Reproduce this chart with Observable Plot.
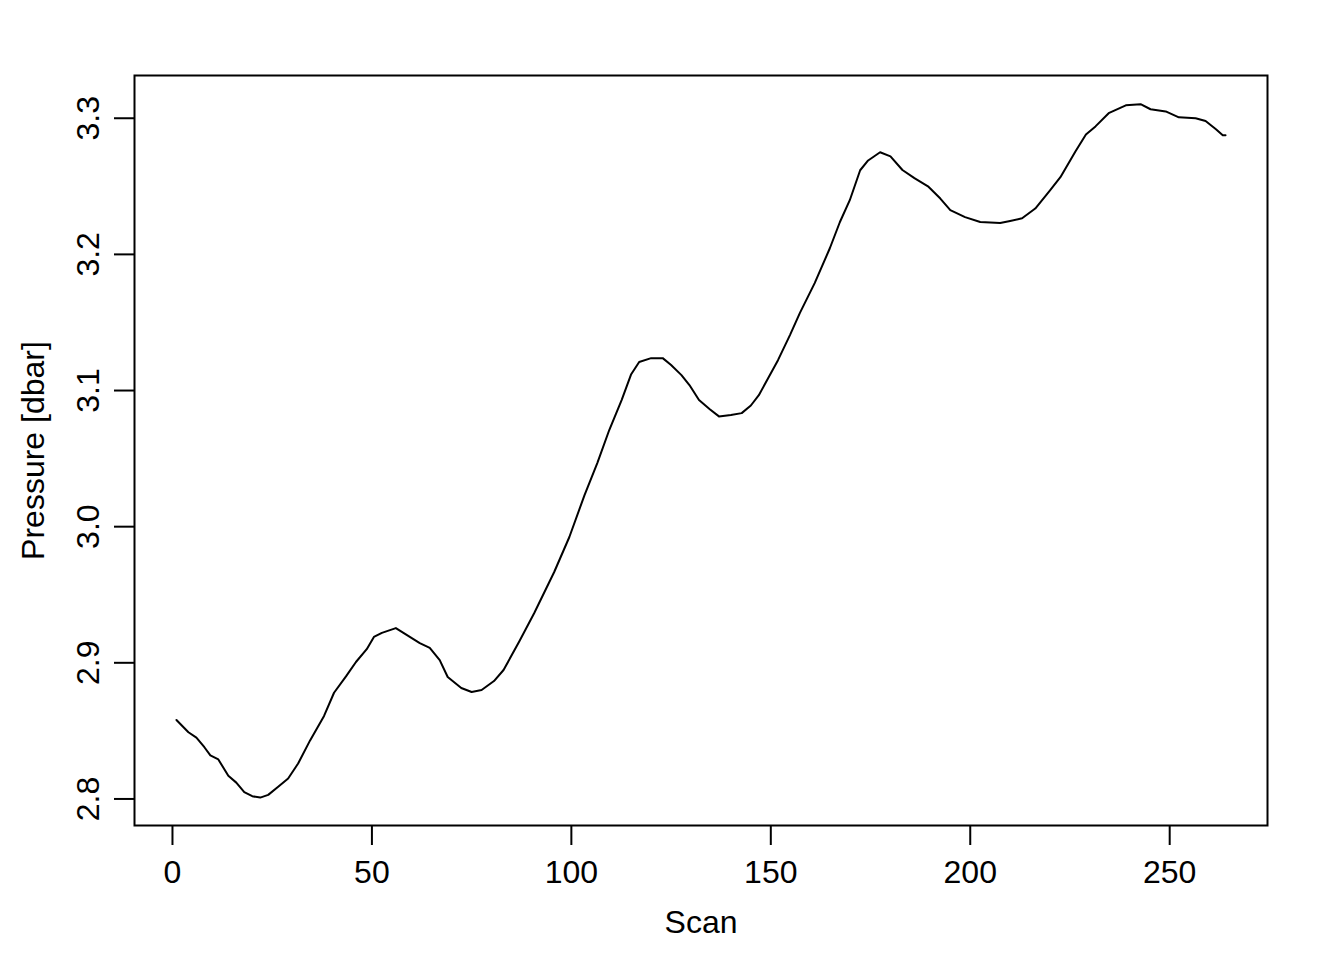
<!DOCTYPE html>
<html>
<head>
<meta charset="utf-8">
<script src="https://cdn.jsdelivr.net/npm/d3@7"></script>
<script src="https://cdn.jsdelivr.net/npm/@observablehq/plot@0.6"></script>
<style>
  html, body { margin: 0; padding: 0; background: #fff; }
</style>
</head>
<body>
<div id="chart"></div>
<script>
const scan = [1, 4, 6, 8, 9.5, 11.5, 14, 16, 18, 20, 22, 24, 26.5, 29, 31.5, 34.5, 38, 40.5, 43.5, 46, 48.7, 50.5, 52.5, 56, 59, 62, 64.5, 67, 69, 72.4, 75, 77.5, 80.6, 83, 87, 90.7, 95.7, 99.5, 103.3, 106.5, 109.5, 112.6, 115, 117, 120, 122.9, 125, 127.6, 129.6, 132, 134.7, 137, 140, 142.7, 145, 147, 149.7, 151.8, 154.8, 157.3, 161, 164.8, 167.3, 169.8, 172.4, 174.4, 177.4, 180, 183, 186, 189.4, 192.5, 195, 198.7, 202.5, 207.5, 210, 213, 216.3, 220, 222.6, 226.4, 229, 231.4, 234.7, 239, 242.7, 245.2, 249, 252.3, 256.5, 259, 261.6, 263.3, 264];
const pressure = [2.858, 2.849, 2.845, 2.838, 2.832, 2.829, 2.817, 2.812, 2.805, 2.802, 2.801, 2.803, 2.809, 2.815, 2.826, 2.843, 2.861, 2.878, 2.890, 2.9006, 2.910, 2.919, 2.922, 2.9255, 2.920, 2.9145, 2.911, 2.902, 2.8896, 2.8815, 2.8786, 2.880, 2.8866, 2.8947, 2.916, 2.9366, 2.9667, 2.9924, 3.0232, 3.0467, 3.071, 3.093, 3.112, 3.121, 3.1238, 3.1238, 3.1187, 3.1113, 3.104, 3.093, 3.0863, 3.081, 3.082, 3.0834, 3.089, 3.0966, 3.111, 3.1223, 3.1407, 3.157, 3.1789, 3.2045, 3.2236, 3.2398, 3.2618, 3.269, 3.275, 3.272, 3.262, 3.256, 3.250, 3.241, 3.2325, 3.2274, 3.2238, 3.223, 3.2245, 3.2265, 3.2337, 3.247, 3.2567, 3.2758, 3.288, 3.294, 3.3037, 3.3095, 3.3103, 3.3066, 3.305, 3.3007, 3.300, 3.298, 3.2919, 3.2875, 3.2875];
const xTicks = [0, 50, 100, 150, 200, 250];
const yTicks = [2.8, 2.9, 3.0, 3.1, 3.2, 3.3];
const yTickLabels = ["2.8", "2.9", "3.0", "3.1", "3.2", "3.3"];
const xLabel = "Scan";
const yLabel = "Pressure [dbar]";

const data = scan.map((s, i) => ({scan: s, pressure: pressure[i]}));
const yTickData = yTicks.map((v, i) => ({v, label: yTickLabels[i]}));

const font = "'Liberation Sans', Arial, Helvetica, sans-serif";

const chart = Plot.plot({
  width: 1344,
  height: 960,
  marginLeft: 134,
  marginRight: 77,
  marginTop: 75,
  marginBottom: 135,
  style: {fontFamily: font, fontSize: "32px", background: "#fff", color: "#000"},
  x: {domain: [-9.52, 274.52]},
  y: {domain: [2.7805, 3.3314]},
  marks: [
    Plot.axisX({ticks: xTicks, tickSize: 20, tickPadding: 15, tickFormat: d => String(d), fontSize: 32, strokeWidth: 2, label: null}),
    Plot.axisY({ticks: yTicks, tickSize: 20, tickFormat: () => "", strokeWidth: 2, label: null}),
    Plot.text(yTickData, {y: "v", text: "label", frameAnchor: "left", dx: -46, rotate: -90, textAnchor: "middle", lineAnchor: "middle", fontSize: 32, fill: "#000"}),
    Plot.text([xLabel], {text: d => d, frameAnchor: "bottom", dy: 97, lineAnchor: "middle", textAnchor: "middle", fontSize: 32, fill: "#000"}),
    Plot.text([yLabel], {text: d => d, frameAnchor: "left", dx: -101, rotate: -90, lineAnchor: "middle", textAnchor: "middle", fontSize: 32, fill: "#000"}),
    Plot.frame({stroke: "#000", strokeWidth: 2}),
    Plot.line(data, {x: "scan", y: "pressure", stroke: "#000", strokeWidth: 2, curve: "linear"})
  ]
});
document.getElementById("chart").appendChild(chart);
</script>
</body>
</html>
